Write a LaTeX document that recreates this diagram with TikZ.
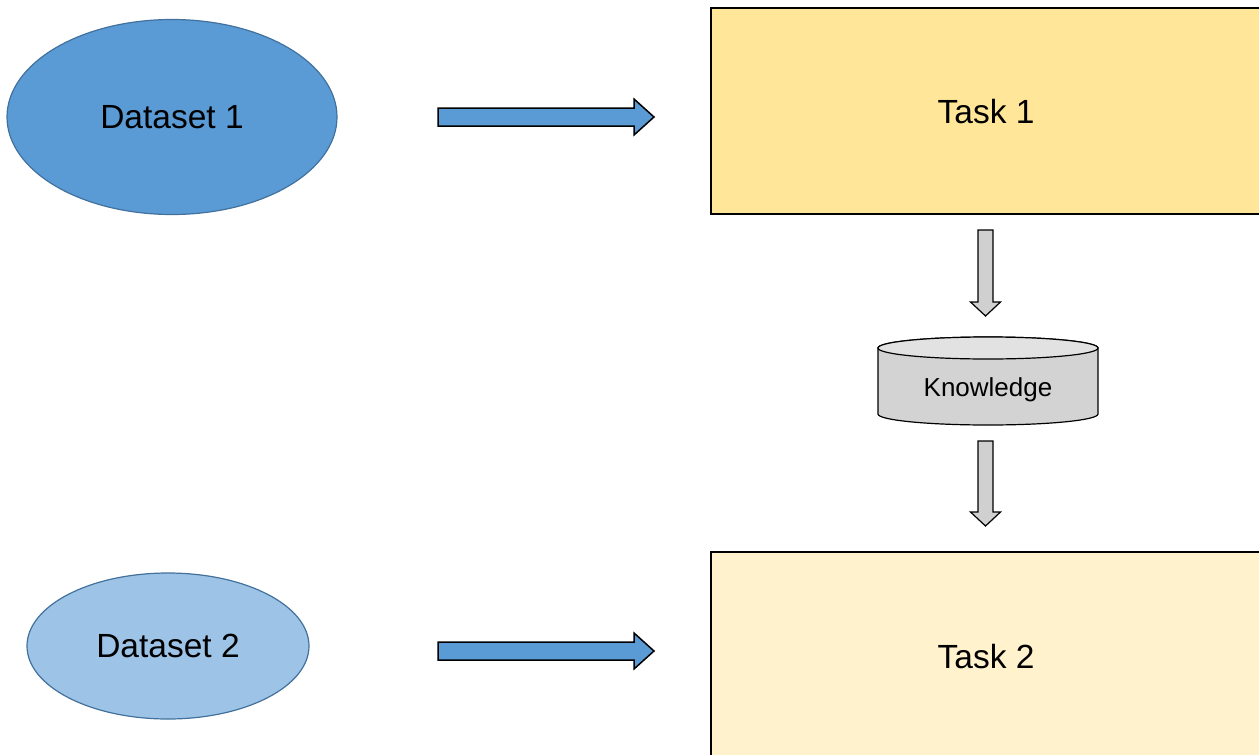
\documentclass[tikz,border=0pt]{standalone}
\usepackage{fontspec}
\setmainfont{Liberation Sans}
\usetikzlibrary{shapes.geometric}
\definecolor{dsone}{HTML}{5B9BD5}
\definecolor{dstwo}{HTML}{9DC3E6}
\definecolor{dsline}{HTML}{41719C}
\definecolor{taskone}{HTML}{FFE699}
\definecolor{tasktwo}{HTML}{FFF2CC}
\definecolor{cylside}{HTML}{D3D3D3}
\definecolor{cyltop}{HTML}{E2E2E2}
\definecolor{grayarr}{HTML}{D0D0D0}
\tikzset{
  dataset/.style={ellipse, draw=dsline, line width=1.2pt, inner sep=0pt, font=\fontsize{33.5}{40}\selectfont},
  taskbox/.style={rectangle, draw=black, line width=1.2pt, inner sep=0pt},
  tasklabel/.style={font=\fontsize{33.5}{40}\selectfont},
  bluearrow/.style={draw=black, fill=dsone, line width=1.5pt, line join=miter},
  grayarrow/.style={draw=black, fill=grayarr, line width=1.2pt, line join=miter},
}
% horizontal block arrow: start x, y, head base x, tip x
\newcommand{\harrow}[5]{%
  \draw[#1] (#2,#3+9) -- (#4,#3+9) -- (#4,#3+18) -- (#5,#3) -- (#4,#3-18) -- (#4,#3-9) -- (#2,#3-9) -- cycle;}
% vertical block arrow: x, top y, head base y, tip y
\newcommand{\varrow}[5]{%
  \draw[#1] (#2-7.5,#3) -- (#2+7.5,#3) -- (#2+7.5,#4) -- (#2+15,#4) -- (#2,#5) -- (#2-15,#4) -- (#2-7.5,#4) -- cycle;}
\begin{document}
\begin{tikzpicture}[x=1pt,y=1pt]
\useasboundingbox (0,0) rectangle (1259,-755);
\clip (0,0) rectangle (1259,-755);
% datasets
\node[dataset, fill=dsone, minimum width=330pt, minimum height=195pt] (d1) at (172,-117) {Dataset 1};
\node[dataset, fill=dstwo, minimum width=282pt, minimum height=146pt] (d2) at (168,-646) {\raisebox{-2pt}{Dataset 2}};
% tasks
\node[taskbox, fill=taskone, minimum width=556pt, minimum height=206pt] (t1) at (989,-111) {};
\node[tasklabel] (t1l) at (986,-112) {Task 1};
\node[taskbox, fill=tasktwo, minimum width=556pt, minimum height=220pt] (t2) at (989,-662) {};
\node[tasklabel] (t2l) at (986,-657) {Task 2};
% blue arrows
\harrow{bluearrow}{438}{-117}{634}{654}
\harrow{bluearrow}{438}{-651}{634}{654}
% gray arrows
\varrow{grayarrow}{985.5}{-230}{-302}{-316}
\varrow{grayarrow}{985.5}{-441}{-512}{-526}
% cylinder
\draw[fill=cylside, line width=1.2pt] (878,-348) -- (878,-414)
  arc[start angle=180, end angle=360, x radius=110, y radius=11] -- (1098,-348)
  arc[start angle=0, end angle=180, x radius=110, y radius=11] -- cycle;
\draw[fill=cyltop, line width=1.2pt] (988,-348) ellipse[x radius=110, y radius=11];
\node[font=\fontsize{26}{31}\selectfont] (kn) at (988,-390) {Knowledge};
\end{tikzpicture}
\end{document}
